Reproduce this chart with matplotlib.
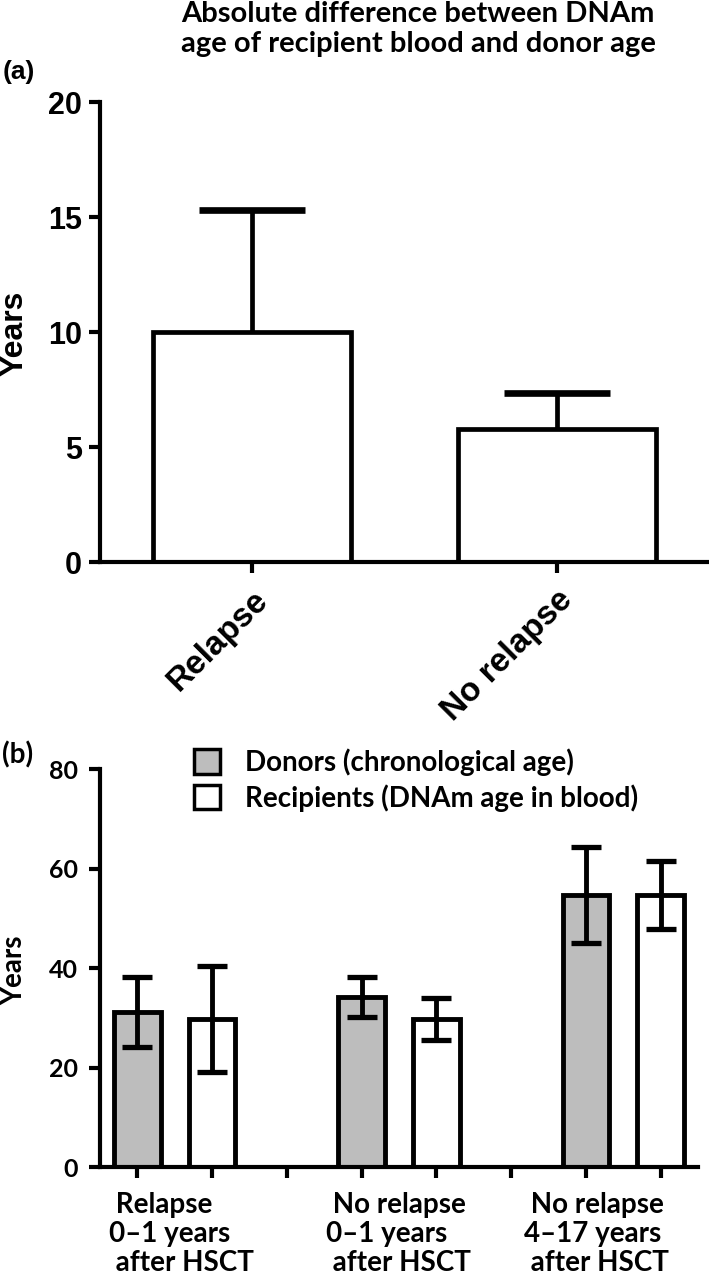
import numpy as np
import matplotlib
matplotlib.use("Agg")
import matplotlib.pyplot as plt
from matplotlib.patches import Patch

# (a) absolute difference between DNAm age of recipient blood and donor age
a_groups = ["Relapse", "No relapse"]
a_means = [10.0, 5.8]
a_err = [5.3, 1.55]
a_yticks = [0, 5, 10, 15, 20]

# (b) donor chronological age vs recipient DNAm age
b_groups = [" Relapse\n0–1 years\n after HSCT",
            " No relapse\n0–1 years\n after HSCT",
            " No relapse\n4–17 years\n after HSCT"]
donor_mean = [31.2, 34.2, 54.7]
donor_sd = [7.0, 4.0, 9.7]
recip_mean = [29.8, 29.8, 54.7]
recip_sd = [10.6, 4.2, 6.9]
b_yticks = [0, 20, 40, 60, 80]
legend_labels = ["Donors (chronological age)", "Recipients (DNAm age in blood)"]

ARIAL = ["Liberation Sans", "DejaVu Sans"]
CALIBRI = ["Lato", "DejaVu Sans"]
GREY = "#bdbdbd"

fig = plt.figure(figsize=(7.09, 12.85), dpi=100)

# ---------------- panel (a) ----------------
ax = fig.add_axes([0.141, 0.5626, 0.859, 0.358])
xa = np.arange(len(a_groups))
ax.bar(xa, a_means, width=0.65, color="white", edgecolor="black",
       linewidth=3.4, zorder=2)
_, caps, _ = ax.errorbar(xa, a_means, yerr=[np.zeros(len(a_err)), a_err],
                         fmt="none", ecolor="black", elinewidth=3.4,
                         capsize=38, capthick=4.8, zorder=3)
# one-sided error bars: hide the caps sitting on the bar tops
for c in caps:
    if np.allclose(c.get_ydata(), a_means):
        c.set_visible(False)
ax.set_xlim(-0.5, 1.5)
ax.set_ylim(0, 20)
ax.set_yticks(a_yticks)
ax.set_xticks(xa)
ax.set_xticklabels(a_groups, rotation=45, ha="right", rotation_mode="anchor",
                   fontsize=24, fontweight="bold", family=ARIAL)
for lab in ax.get_yticklabels():
    lab.set_fontsize(22)
    lab.set_fontweight("bold")
    lab.set_family(ARIAL)
for s in ["top", "right"]:
    ax.spines[s].set_visible(False)
for s in ["left", "bottom"]:
    ax.spines[s].set_linewidth(3)
ax.tick_params(axis="both", length=8, width=3, direction="out")
ax.tick_params(axis="y", pad=5)
ax.tick_params(axis="x", pad=8)

fig.text(14 / 709, 1 - 333 / 1285, "Years", rotation=90, ha="center",
         va="center", fontsize=23, fontweight="bold", family=ARIAL)
fig.text(3 / 709, 1 - 60 / 1285, "(a)", ha="left", va="top",
         fontsize=19, fontweight="bold", family=ARIAL)
fig.text(0.59, 1 - 1 / 1285,
         "Absolute difference between DNAm\nage of recipient blood and donor age",
         ha="center", va="top", fontsize=21, fontweight="bold",
         family=CALIBRI, linespacing=1.2)

# ---------------- panel (b) ----------------
bx = fig.add_axes([0.141, 0.0918, 0.8435, 0.3097])
donor_x = np.arange(len(b_groups)) * 3
recip_x = donor_x + 1
bw = 0.62
bx.bar(donor_x, donor_mean, width=bw, color=GREY, edgecolor="black",
       linewidth=3.5, zorder=2)
bx.bar(recip_x, recip_mean, width=bw, color="white", edgecolor="black",
       linewidth=3.5, zorder=2)
bx.errorbar(donor_x, donor_mean, yerr=donor_sd, fmt="none", ecolor="black",
            elinewidth=3.5, capsize=10.5, capthick=3.8, zorder=3)
bx.errorbar(recip_x, recip_mean, yerr=recip_sd, fmt="none", ecolor="black",
            elinewidth=3.5, capsize=10.5, capthick=3.8, zorder=3)
bx.set_xlim(-0.5, 7.5)
bx.set_ylim(0, 80)
bx.set_yticks(b_yticks)
bx.set_xticks(np.arange(8))
bx.set_xticklabels([])
for lab in bx.get_yticklabels():
    lab.set_fontsize(18)
    lab.set_fontweight("bold")
    lab.set_family(CALIBRI)
for s in ["top", "right"]:
    bx.spines[s].set_visible(False)
for s in ["left", "bottom"]:
    bx.spines[s].set_linewidth(3)
bx.tick_params(axis="both", length=8, width=3, direction="out")
bx.tick_params(axis="y", pad=8)

label_x = [-0.38, 2.53, 5.17]
for lx, txt in zip(label_x, b_groups):
    bx.text(lx, -0.062, txt, transform=bx.get_xaxis_transform(),
            ha="left", va="top", fontsize=20, fontweight="bold",
            family=CALIBRI, linespacing=1.15)

fig.text(14 / 709, 1 - 970 / 1285, "Years", rotation=90, ha="center",
         va="center", fontsize=20, fontweight="bold", family=CALIBRI)
fig.text(2 / 709, 1 - 741 / 1285, "(b)", ha="left", va="top",
         fontsize=20, fontweight="bold", family=CALIBRI)

handles = [Patch(facecolor=GREY, edgecolor="black", linewidth=2.5),
           Patch(facecolor="white", edgecolor="black", linewidth=2.5)]
fig.legend(handles, legend_labels, loc="upper left",
           bbox_to_anchor=(194 / 709, 1 - 748 / 1285), frameon=False,
           prop={"family": CALIBRI, "weight": "bold", "size": 20},
           handlelength=0.95, handleheight=1.0, handletextpad=0.9,
           labelspacing=0.3, borderpad=0, borderaxespad=0)

fig.savefig("out.png", dpi=100)
